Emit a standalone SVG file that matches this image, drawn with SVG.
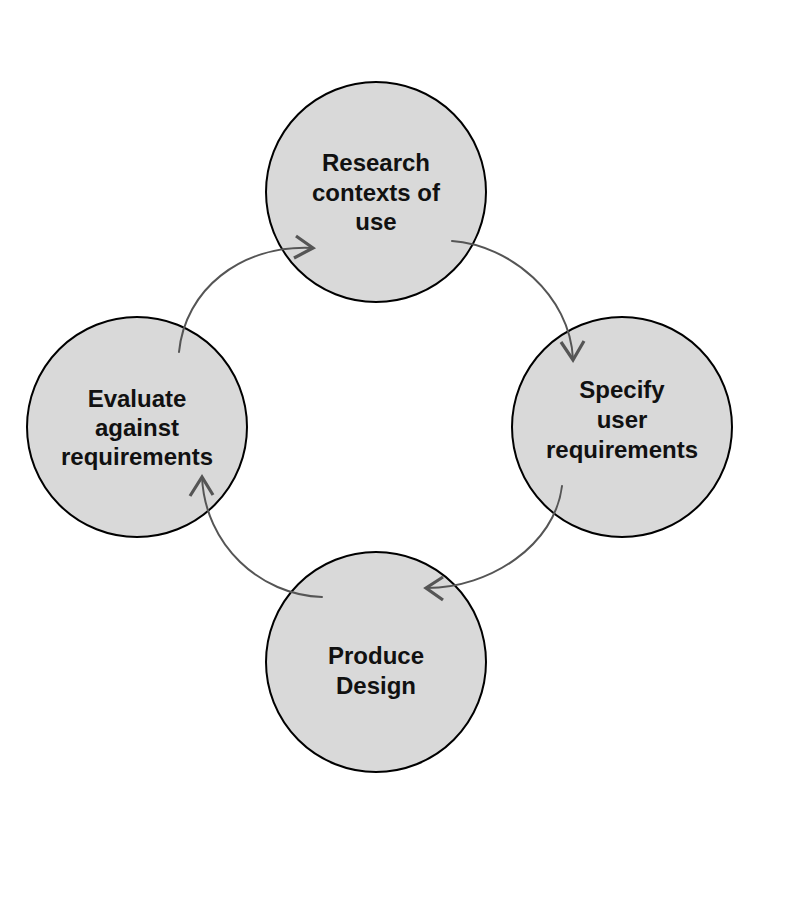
<svg xmlns="http://www.w3.org/2000/svg" width="806" height="900" viewBox="0 0 806 900">
<style>
.node{fill:#d9d9d9;stroke:#000;stroke-width:2}
.lbl{font-family:"Liberation Sans",Arial,sans-serif;font-weight:bold;font-size:24px;fill:#111;text-anchor:middle}
.conn{fill:none;stroke:#555;stroke-width:2;stroke-linecap:round}
.head{fill:none;stroke:#555;stroke-width:3.2;stroke-linecap:butt;stroke-linejoin:miter}
</style>
<rect width="806" height="900" fill="#fff"/>
<g id="node-research">
<circle class="node" cx="376" cy="192" r="110"/>
<text class="lbl" x="376" y="171">Research</text>
<text class="lbl" x="376" y="201">contexts of</text>
<text class="lbl" x="376" y="230">use</text>
</g>
<g id="node-specify">
<circle class="node" cx="622" cy="427" r="110"/>
<text class="lbl" x="622" y="398">Specify</text>
<text class="lbl" x="622" y="428">user</text>
<text class="lbl" x="622" y="458">requirements</text>
</g>
<g id="node-produce">
<circle class="node" cx="376" cy="662" r="110"/>
<text class="lbl" x="376" y="664">Produce</text>
<text class="lbl" x="376" y="694">Design</text>
</g>
<g id="node-evaluate">
<circle class="node" cx="137" cy="427" r="110"/>
<text class="lbl" x="137" y="407">Evaluate</text>
<text class="lbl" x="137" y="436">against</text>
<text class="lbl" x="137" y="465">requirements</text>
</g>
<g id="connectors">
<path class="conn" d="M179,352 C185,290 240,245 312,248"/>
<path class="head" d="M296,236 L313,248 L294,258"/>
<path class="conn" d="M452,241 C510,245 570,295 573,359"/>
<path class="head" d="M561,342 L573,360 L584,341"/>
<path class="conn" d="M562,486 C555,545 490,588 427,588"/>
<path class="head" d="M443,577 L426,588 L443,600"/>
<path class="conn" d="M322,597 C260,595 205,545 202,477"/>
<path class="head" d="M190,496 L202,477 L213,495"/>
</g>
</svg>
